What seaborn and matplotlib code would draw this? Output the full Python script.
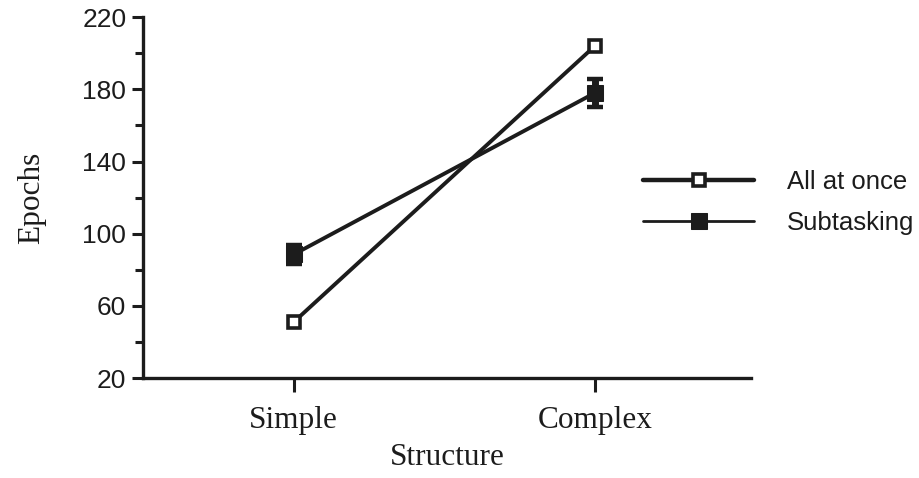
import numpy as np
import pandas as pd
import seaborn as sns
import matplotlib.pyplot as plt

# values
structure = ['Simple', 'Complex']
all_at_once = [51, 204]
subtasking = [88.5, 178]
subtasking_err = [5, 7.5]
y_major = [20, 60, 100, 140, 180, 220]
y_minor = [40, 80, 120, 160, 200]

ink = '#1c1c1c'

sns.set_theme(style='ticks')
plt.rcParams['font.family'] = ['Liberation Sans', 'DejaVu Sans']

fig = plt.figure(figsize=(9.19, 4.78), dpi=100)
ax = fig.add_axes([0.1556, 0.209, 0.662, 0.755])

df = pd.DataFrame({'Structure': structure, 'All at once': all_at_once, 'Subtasking': subtasking})

sns.lineplot(data=df, x='Structure', y='All at once', ax=ax, color=ink, lw=2.8,
             marker='s', ms=9, mfc='white', mec=ink, mew=2.6, label='All at once')
sns.lineplot(data=df, x='Structure', y='Subtasking', ax=ax, color=ink, lw=2.8,
             marker='s', ms=11, mfc=ink, mec=ink, label='Subtasking')
ax.errorbar(np.arange(len(structure)), subtasking, yerr=subtasking_err, fmt='none',
            ecolor=ink, elinewidth=5, capsize=5.5, capthick=3.2, zorder=3)

ax.set_xlim(-0.5, 1.52)
ax.set_ylim(20, 220)
ax.set_yticks(y_major)
ax.set_yticks(y_minor, minor=True)
ax.set_xticks([0, 1])
ax.set_xticklabels(structure, family='Liberation Serif', fontsize=22.5)
ax.tick_params(axis='y', which='major', length=8, width=2.2, labelsize=19, colors=ink, pad=4)
ax.tick_params(axis='y', which='minor', length=6, width=2.2, colors=ink)
ax.tick_params(axis='x', length=10, width=2.2, colors=ink, pad=10)

for s in ['top', 'right']:
    ax.spines[s].set_visible(False)
for s in ['left', 'bottom']:
    ax.spines[s].set_linewidth(2.4)
    ax.spines[s].set_color(ink)

ax.set_xlabel('Structure', family='Liberation Serif', fontsize=22.5, color=ink, labelpad=6)
ax.set_ylabel('Epochs', family='Liberation Serif', fontsize=22.5, color=ink, labelpad=26)

leg = ax.legend(loc='center left', bbox_to_anchor=(0.700, 0.577), bbox_transform=fig.transFigure,
                frameon=False, fontsize=18.5, handlelength=4.3, handletextpad=1.3,
                labelspacing=0.65, borderpad=0, borderaxespad=0, labelcolor=ink)
leg.get_lines()[0].set_linewidth(3.2)
leg.get_lines()[1].set_linewidth(2.0)

fig.savefig('out.png', dpi=100, facecolor='white')
